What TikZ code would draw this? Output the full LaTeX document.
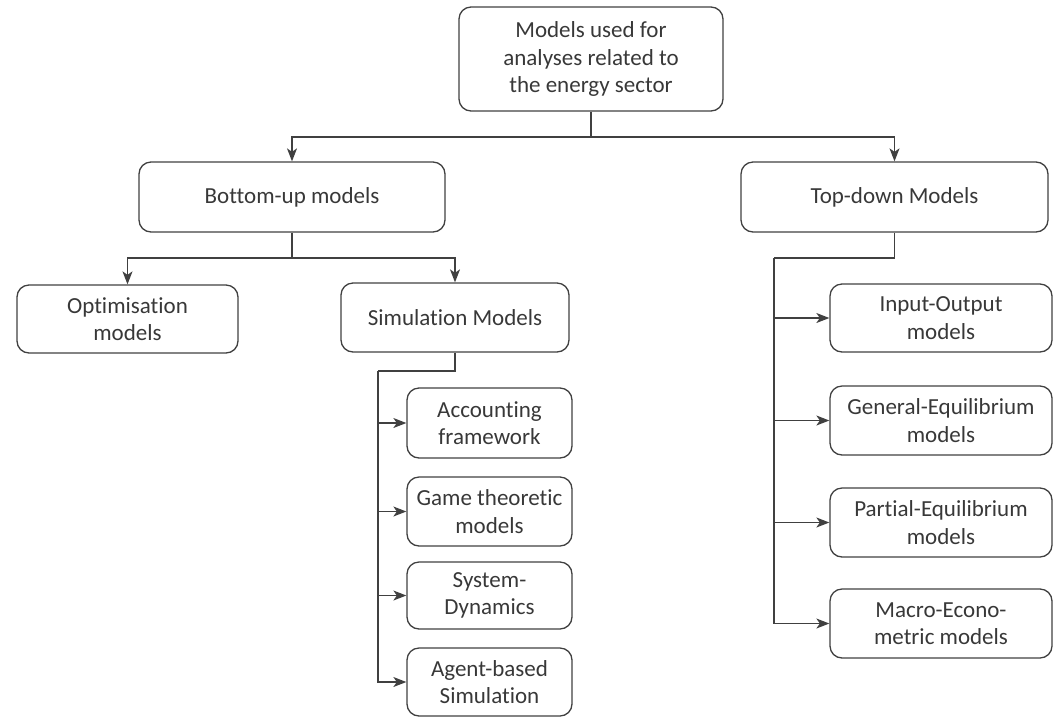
\documentclass[tikz,border=0pt]{standalone}
\usepackage{fontspec}
\setmainfont{Carlito}[Ligatures=CommonOff]
\usepackage{xcolor}
\usepackage{tikz}
\usetikzlibrary{arrows.meta,positioning}

\tikzset{
  mbox/.style={draw=black!75, line width=1.3pt, rounded corners=12pt, align=center,
    inner sep=0pt, text=black!78, font=\fontsize{23}{27.5}\selectfont},
  link/.style={draw=black!75, line width=1.3pt},
  arr/.style={link, -{Stealth[length=13pt,width=10pt,inset=3.5pt]}}
}

\begin{document}
\begin{tikzpicture}[x=1pt,y=1pt,yscale=-1]
\useasboundingbox (0,0) rectangle (1057,716);

% Text Node
\draw (591,59) node [mbox, minimum width=264pt, minimum height=104pt] (root) {Models used for\\analyses related to\\the energy sector};
% Text Node
\draw (292,197) node [mbox, minimum width=306pt, minimum height=70pt] (bottomup) {Bottom-up models};
% Text Node
\draw (894.5,197) node [mbox, minimum width=307pt, minimum height=70pt] (topdown) {Top-down Models};
% Text Node
\draw (127.5,319) node [mbox, minimum width=221pt, minimum height=68pt] (optim) {Optimisation\\models};
% Text Node
\draw (455,317.5) node [mbox, minimum width=228pt, minimum height=69pt] (simul) {Simulation Models};

% Text Node
\draw (489.5,423) node [mbox, minimum width=165pt, minimum height=70pt] (account) {Accounting\\framework};
% Text Node
\draw (489.5,511.5) node [mbox, minimum width=165pt, minimum height=69pt] (game) {Game theoretic\\models};
% Text Node
\draw (489.5,595.5) node [mbox, minimum width=165pt, minimum height=67pt] (sysdyn) {System-\\Dynamics};
% Text Node
\draw (489.5,682) node [mbox, minimum width=165pt, minimum height=68pt] (agent) {Agent-based\\Simulation};

% Text Node
\draw (941,318) node [mbox, minimum width=222pt, minimum height=68pt] (inout) {Input-Output\\models};
% Text Node
\draw (941,420.5) node [mbox, minimum width=222pt, minimum height=69pt] (genequ) {General-Equilibrium\\models};
% Text Node
\draw (941,522.5) node [mbox, minimum width=222pt, minimum height=69pt] (partequ) {Partial-Equilibrium\\models};
% Text Node
\draw (941,623.5) node [mbox, minimum width=222pt, minimum height=69pt] (macro) {Macro-Econo-\\metric models};

%Bus Points
\coordinate (rootbus) at (591,137);
\coordinate (bubus) at (292,258);
\coordinate (simbus) at (378,371);
\coordinate (tdbus) at (774,258);

%Straight Lines
\draw [link] (root.south) -- (rootbus);
\draw [arr] (rootbus) -| (bottomup.north);
\draw [arr] (rootbus) -| (topdown.north);

%Straight Lines
\draw [link] (bottomup.south) -- (bubus);
\draw [arr] (bubus) -| (optim.north);
\draw [arr] (bubus) -| (simul.north);

%Straight Lines
\draw [link] (simul.south) |- (simbus);
\draw [arr] (simbus) |- (account.west);
\draw [arr] (simbus) |- (game.west);
\draw [arr] (simbus) |- (sysdyn.west);
\draw [arr] (simbus) |- (agent.west);

%Straight Lines
\draw [link] (topdown.south) |- (tdbus);
\draw [arr] (tdbus) |- (inout.west);
\draw [arr] (tdbus) |- (genequ.west);
\draw [arr] (tdbus) |- (partequ.west);
\draw [arr] (tdbus) |- (macro.west);

\end{tikzpicture}
\end{document}
